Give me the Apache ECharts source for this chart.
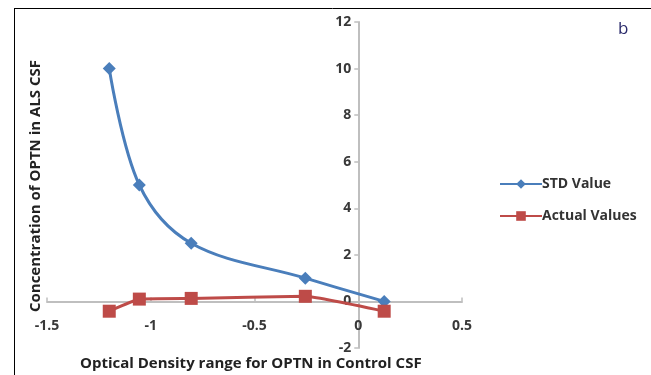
<!DOCTYPE html>
<html><head><meta charset="utf-8">
<script src="https://cdn.jsdelivr.net/npm/echarts@6/dist/echarts.min.js"></script>
<style>html,body{margin:0;padding:0;background:#fff}#c{width:651px;height:375px}</style>
</head><body><div id="c"></div>
<script>
var stdX = [-1.2, -1.055, -0.805, -0.255, 0.125];
var stdY = [10, 5, 2.5, 1, 0];
var actX = [-1.2, -1.055, -0.805, -0.255, 0.125];
var actY = [-0.42, 0.1, 0.13, 0.22, -0.42];
var xTicks = [-1.5, -1, -0.5, 0, 0.5];
var yTicks = [-2, 0, 2, 4, 6, 8, 10, 12];
var seriesNames = ['STD Value', 'Actual Values'];
var xTitle = 'Optical Density range for OPTN in Control CSF';
var yTitle = 'Concentration of OPTN in ALS CSF';
var panelLabel = 'b';

function pairs(xs, ys){ return xs.map(function(x,i){return [x, ys[i]];}); }
var font = 'Open Sans';
var G = {left: 47, right: 189, top: 22, bottom: 27};
var chart = echarts.init(document.getElementById('c'));
chart.setOption({
  animation: false,
  textStyle: {fontFamily: font},
  grid: {left: G.left, right: G.right, top: G.top, bottom: G.bottom, containLabel: false, outerBoundsMode: 'none'},
  xAxis: {
    type: 'value', min: xTicks[0], max: xTicks[xTicks.length-1], interval: 0.5,
    position: 'bottom', offset: 0,
    axisLine: {onZero: false, lineStyle: {color: '#bfbfbf', width: 2}},
    axisTick: {show: true, inside: true, length: 4, lineStyle: {color: '#bfbfbf', width: 1.5}},
    splitLine: {show: false},
    axisLabel: {color: '#383838', fontSize: 14, fontWeight: 'bold', margin: 18, fontFamily: font}
  },
  yAxis: {
    type: 'value', min: yTicks[0], max: yTicks[yTicks.length-1], interval: 2,
    position: 'left', offset: 0,
    axisLine: {onZero: false, show: true, lineStyle: {color: '#bfbfbf', width: 2}},
    axisTick: {show: true, length: 4, lineStyle: {color: '#bfbfbf', width: 1.5}},
    splitLine: {show: false},
    axisLabel: {color: '#383838', fontSize: 14, fontWeight: 'bold', margin: 7, fontFamily: font}
  },
  legend: {
    orient: 'vertical', left: 494, top: 172, itemGap: 18, itemWidth: 42, itemHeight: 12,
    data: seriesNames,
    textStyle: {color: '#333', fontSize: 14, fontWeight: 'bold', fontFamily: font, padding: [0,0,0,-5]}
  },
  graphic: [
    {type: 'line', shape: {x1: 14, y1: 8.5, x2: 651, y2: 8.5}, style: {stroke: '#000', lineWidth: 1}},
    {type: 'line', shape: {x1: 14.5, y1: 8, x2: 14.5, y2: 375}, style: {stroke: '#000', lineWidth: 1}},
    {type: 'text', left: 80, top: 356, style: {text: xTitle, fontSize: 15, fontWeight: 'bold', fill: '#222', fontFamily: font}},
    {type: 'text', x: 36, y: 186, rotation: Math.PI/2,
     style: {text: yTitle, fontSize: 15, fontWeight: 'bold', fill: '#222', fontFamily: font, align: 'center', verticalAlign: 'middle'}},
    {type: 'text', left: 618, top: 21, style: {text: panelLabel, fontSize: 17, fill: '#2b2b6b', fontFamily: font}}
  ],
  series: [
    {name: seriesNames[0], type: 'line', smooth: 0.35, data: pairs(stdX, stdY),
     symbol: 'diamond', symbolSize: 13,
     lineStyle: {color: '#4a7ebb', width: 3}, itemStyle: {color: '#4a7ebb'}},
    {name: seriesNames[1], type: 'line', smooth: 0.1, data: pairs(actX, actY),
     symbol: 'rect', symbolSize: 13,
     lineStyle: {color: '#be4b48', width: 3}, itemStyle: {color: '#be4b48'}}
  ]
});
// place axes so they cross at zero, using the library's own scales
var px0 = chart.convertToPixel({xAxisIndex: 0}, 0);
var py0 = chart.convertToPixel({yAxisIndex: 0}, 0);
var bottomY = 375 - G.bottom;
chart.setOption({
  xAxis: {offset: py0 - bottomY},
  yAxis: {offset: G.left - px0}
});
</script></body></html>
